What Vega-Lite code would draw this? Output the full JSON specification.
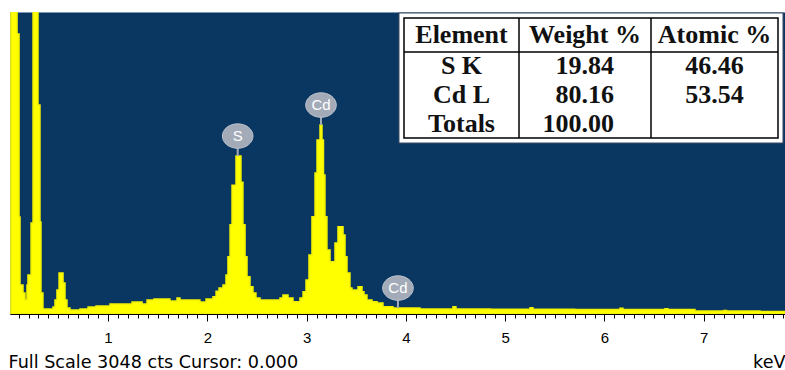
{
  "$schema": "https://vega.github.io/schema/vega-lite/v6.json",
  "width": 775,
  "height": 302,
  "autosize": {"type": "none"},
  "padding": {"left": 10, "top": 12, "right": 0, "bottom": 56},
  "background": "white",
  "config": {
    "view": {"fill": "#0a3662", "stroke": "#7f97b3", "strokeWidth": 1},
    "axis": {"grid": false}
  },
  "datasets": {
    "spectrum": [
      {"e": 0.013, "c": 0}, {"e": 0.023, "c": 4000}, {"e": 0.084, "c": 2825}, {"e": 0.104, "c": 979},
      {"e": 0.114, "c": 293}, {"e": 0.144, "c": 212}, {"e": 0.164, "c": 141}, {"e": 0.184, "c": 293},
      {"e": 0.194, "c": 393}, {"e": 0.225, "c": 918}, {"e": 0.245, "c": 4000}, {"e": 0.295, "c": 2109},
      {"e": 0.315, "c": 928}, {"e": 0.325, "c": 212}, {"e": 0.345, "c": 50}, {"e": 0.446, "c": 70},
      {"e": 0.466, "c": 141}, {"e": 0.486, "c": 242}, {"e": 0.507, "c": 414}, {"e": 0.547, "c": 312},
      {"e": 0.567, "c": 141}, {"e": 0.587, "c": 60}, {"e": 0.617, "c": 40}, {"e": 0.718, "c": 50},
      {"e": 0.799, "c": 70}, {"e": 0.879, "c": 80}, {"e": 1.02, "c": 100}, {"e": 1.242, "c": 121},
      {"e": 1.343, "c": 100}, {"e": 1.393, "c": 141}, {"e": 1.463, "c": 151}, {"e": 1.624, "c": 131},
      {"e": 1.695, "c": 161}, {"e": 1.725, "c": 141}, {"e": 1.926, "c": 121}, {"e": 1.987, "c": 151},
      {"e": 2.057, "c": 175}, {"e": 2.088, "c": 230}, {"e": 2.118, "c": 262}, {"e": 2.158, "c": 293},
      {"e": 2.188, "c": 393}, {"e": 2.208, "c": 578}, {"e": 2.229, "c": 900}, {"e": 2.249, "c": 1300},
      {"e": 2.289, "c": 1594}, {"e": 2.339, "c": 1330}, {"e": 2.359, "c": 900}, {"e": 2.38, "c": 578},
      {"e": 2.4, "c": 376}, {"e": 2.43, "c": 275}, {"e": 2.46, "c": 212}, {"e": 2.49, "c": 161},
      {"e": 2.531, "c": 141}, {"e": 2.732, "c": 161}, {"e": 2.762, "c": 192}, {"e": 2.813, "c": 161},
      {"e": 2.863, "c": 124}, {"e": 2.933, "c": 161}, {"e": 2.964, "c": 225}, {"e": 2.994, "c": 343},
      {"e": 3.024, "c": 595}, {"e": 3.054, "c": 982}, {"e": 3.085, "c": 1423}, {"e": 3.105, "c": 1756},
      {"e": 3.135, "c": 1907}, {"e": 3.155, "c": 1756}, {"e": 3.17, "c": 1402}, {"e": 3.185, "c": 982},
      {"e": 3.205, "c": 646}, {"e": 3.236, "c": 528}, {"e": 3.286, "c": 716}, {"e": 3.316, "c": 881},
      {"e": 3.367, "c": 797}, {"e": 3.387, "c": 578}, {"e": 3.407, "c": 414}, {"e": 3.437, "c": 262},
      {"e": 3.457, "c": 242}, {"e": 3.518, "c": 275}, {"e": 3.558, "c": 225}, {"e": 3.578, "c": 192},
      {"e": 3.608, "c": 141}, {"e": 3.659, "c": 124}, {"e": 3.71, "c": 111}, {"e": 3.769, "c": 74},
      {"e": 3.87, "c": 60}, {"e": 4.142, "c": 50}, {"e": 4.474, "c": 73}, {"e": 4.504, "c": 50},
      {"e": 4.85, "c": 48}, {"e": 5.25, "c": 62}, {"e": 5.28, "c": 47}, {"e": 5.7, "c": 45},
      {"e": 6.156, "c": 58}, {"e": 6.186, "c": 45}, {"e": 6.609, "c": 52}, {"e": 6.639, "c": 45},
      {"e": 6.911, "c": 30}, {"e": 7.2, "c": 35}, {"e": 7.23, "c": 30}, {"e": 7.566, "c": 25},
      {"e": 7.818, "c": 25}
    ],
    "markers": [
      {"el": "S", "e": 2.306, "c": 1594},
      {"el": "Cd", "e": 3.145, "c": 1907},
      {"el": "Cd", "e": 3.92, "c": 60}
    ],
    "table": [
      {"c": 0, "r": 0, "t": "Element"}, {"c": 1, "r": 0, "t": "Weight %"}, {"c": 2, "r": 0, "t": "Atomic %"},
      {"c": 0, "r": 1, "t": "S K"}, {"c": 1, "r": 1, "t": "19.84"}, {"c": 2, "r": 1, "t": "46.46"},
      {"c": 0, "r": 2, "t": "Cd L"}, {"c": 1, "r": 2, "t": "80.16"}, {"c": 2, "r": 2, "t": "53.54"},
      {"c": 0, "r": 3, "t": "Totals"}, {"c": 1, "r": 3, "t": "100.00"}
    ]
  },
  "layer": [
    {
      "layer": [
        {
          "data": {"name": "spectrum"},
          "mark": {"type": "area", "interpolate": "step-after", "color": "#ffff00", "stroke": "#f2f200", "strokeWidth": 1.5, "strokeJoin": "miter", "clip": true},
          "encoding": {
            "x": {
              "field": "e", "type": "quantitative",
              "scale": {"domain": [0.013, 7.818], "nice": false, "zero": false},
              "axis": {
                "orient": "bottom",
                "values": [1, 2, 3, 4, 5, 6, 7], "format": "d",
                "tickSize": 7, "tickWidth": 1, "tickColor": "#000", "domainColor": "#000",
                "labelFont": "Liberation Sans", "labelFontSize": 15, "labelColor": "#000", "labelPadding": 9,
                "labelFlush": false,
                "title": "Full Scale 3048 cts Cursor: 0.000",
                "titleFont": "DejaVu Sans", "titleFontSize": 17.6, "titleFontWeight": "normal", "titleColor": "#000",
                "titleAnchor": "start", "titleAlign": "left", "titleBaseline": "alphabetic",
                "titleX": -2, "titleY": 53
              }
            },
            "y": {
              "field": "c", "type": "quantitative", "stack": null,
              "scale": {"domain": [0, 3048], "nice": false},
              "axis": null
            }
          }
        },
        {
          "data": {"name": "markers"},
          "mark": {"type": "rule", "color": "#a3abb8", "strokeWidth": 2, "y2Offset": -13},
          "encoding": {
            "x": {
              "field": "e", "type": "quantitative",
              "axis": {
                "orient": "bottom",
                "values": [0.1,0.2,0.3,0.4,0.5,0.6,0.7,0.8,0.9,1.1,1.2,1.3,1.4,1.5,1.6,1.7,1.8,1.9,2.1,2.2,2.3,2.4,2.5,2.6,2.7,2.8,2.9,3.1,3.2,3.3,3.4,3.5,3.6,3.7,3.8,3.9,4.1,4.2,4.3,4.4,4.5,4.6,4.7,4.8,4.9,5.1,5.2,5.3,5.4,5.5,5.6,5.7,5.8,5.9,6.1,6.2,6.3,6.4,6.5,6.6,6.7,6.8,6.9,7.1,7.2,7.3,7.4,7.5,7.6,7.7,7.8],
                "tickSize": 4, "tickWidth": 1, "tickColor": "#000", "labels": false, "domain": false,
                "title": "keV",
                "titleFont": "DejaVu Sans", "titleFontSize": 17.6, "titleFontWeight": "normal", "titleColor": "#000",
                "titleAnchor": "end", "titleAlign": "right", "titleBaseline": "alphabetic",
                "titleX": 775, "titleY": 53
              }
            },
            "y": {"field": "c", "type": "quantitative", "axis": null},
            "y2": {"field": "c"}
          }
        },
        {
          "data": {"name": "markers"},
          "mark": {
            "type": "point", "filled": true, "opacity": 1, "yOffset": -20, "size": 600,
            "shape": "M -1.25 0 A 1.25 1 0 1 0 1.25 0 A 1.25 1 0 1 0 -1.25 0 Z",
            "color": "#a3abb8", "stroke": "#bcc3cd", "strokeWidth": 1
          },
          "encoding": {
            "x": {"field": "e", "type": "quantitative", "axis": null},
            "y": {"field": "c", "type": "quantitative", "axis": null}
          }
        },
        {
          "data": {"name": "markers"},
          "mark": {
            "type": "text", "yOffset": -20, "align": "center", "baseline": "middle",
            "font": "Liberation Sans", "fontSize": 15, "color": "#ffffff"
          },
          "encoding": {
            "x": {"field": "e", "type": "quantitative", "axis": null},
            "y": {"field": "c", "type": "quantitative", "axis": null},
            "text": {"field": "el"}
          }
        }
      ],
      "resolve": {"axis": {"x": "independent", "y": "independent"}}
    },
    {
      "encoding": {
        "x": {
          "type": "quantitative",
          "scale": {"domain": [-0.5, 0.5, 1.5, 2.5], "range": [394, 509, 641, 768], "nice": false, "zero": false},
          "axis": null
        },
        "y": {
          "type": "quantitative",
          "scale": {"domain": [-0.5, 0.5, 3.5], "range": [6, 40, 126], "nice": false, "zero": false},
          "axis": null
        }
      },
      "layer": [
        {
          "data": {"values": [{}]},
          "mark": {"type": "rect", "fill": "white", "stroke": "#3a4a60", "strokeWidth": 11},
          "encoding": {
            "x": {"datum": -0.5, "type": "quantitative"}, "x2": {"datum": 2.5},
            "y": {"datum": -0.5, "type": "quantitative"}, "y2": {"datum": 3.5}
          }
        },
        {
          "data": {"values": [{}]},
          "mark": {"type": "rect", "fill": "white", "stroke": "white", "strokeWidth": 9},
          "encoding": {
            "x": {"datum": -0.5, "type": "quantitative"}, "x2": {"datum": 2.5},
            "y": {"datum": -0.5, "type": "quantitative"}, "y2": {"datum": 3.5}
          }
        },
        {
          "data": {"values": [{}]},
          "mark": {"type": "rect", "fill": null, "fillOpacity": 0, "stroke": "#000", "strokeWidth": 1.5},
          "encoding": {
            "x": {"datum": -0.5, "type": "quantitative"}, "x2": {"datum": 2.5},
            "y": {"datum": -0.5, "type": "quantitative"}, "y2": {"datum": 3.5}
          }
        },
        {
          "data": {"values": [{}]},
          "mark": {"type": "rule", "color": "#000", "strokeWidth": 1.5},
          "encoding": {
            "x": {"datum": 0.5, "type": "quantitative"},
            "y": {"datum": -0.5, "type": "quantitative"}, "y2": {"datum": 3.5}
          }
        },
        {
          "data": {"values": [{}]},
          "mark": {"type": "rule", "color": "#000", "strokeWidth": 1.5},
          "encoding": {
            "x": {"datum": 1.5, "type": "quantitative"},
            "y": {"datum": -0.5, "type": "quantitative"}, "y2": {"datum": 3.5}
          }
        },
        {
          "data": {"values": [{}]},
          "mark": {"type": "rule", "color": "#000", "strokeWidth": 1.5},
          "encoding": {
            "y": {"datum": 0.5, "type": "quantitative"},
            "x": {"datum": -0.5, "type": "quantitative"}, "x2": {"datum": 2.5}
          }
        },
        {
          "data": {"name": "table"},
          "transform": [{"filter": "!(datum.c == 1 && datum.r > 0)"}],
          "mark": {
            "type": "text", "align": "center", "baseline": "middle",
            "font": "Liberation Serif", "fontWeight": "bold", "fontSize": 26, "color": "#111"
          },
          "encoding": {
            "x": {"field": "c", "type": "quantitative"},
            "y": {"field": "r", "type": "quantitative"},
            "text": {"field": "t"}
          }
        },
        {
          "data": {"name": "table"},
          "transform": [{"filter": "datum.c == 1 && datum.r > 0"}],
          "mark": {
            "type": "text", "align": "right", "baseline": "middle", "dx": 29,
            "font": "Liberation Serif", "fontWeight": "bold", "fontSize": 26, "color": "#111"
          },
          "encoding": {
            "x": {"field": "c", "type": "quantitative"},
            "y": {"field": "r", "type": "quantitative"},
            "text": {"field": "t"}
          }
        }
      ]
    }
  ],
  "resolve": {"scale": {"x": "independent", "y": "independent"}, "axis": {"x": "independent", "y": "independent"}}
}
